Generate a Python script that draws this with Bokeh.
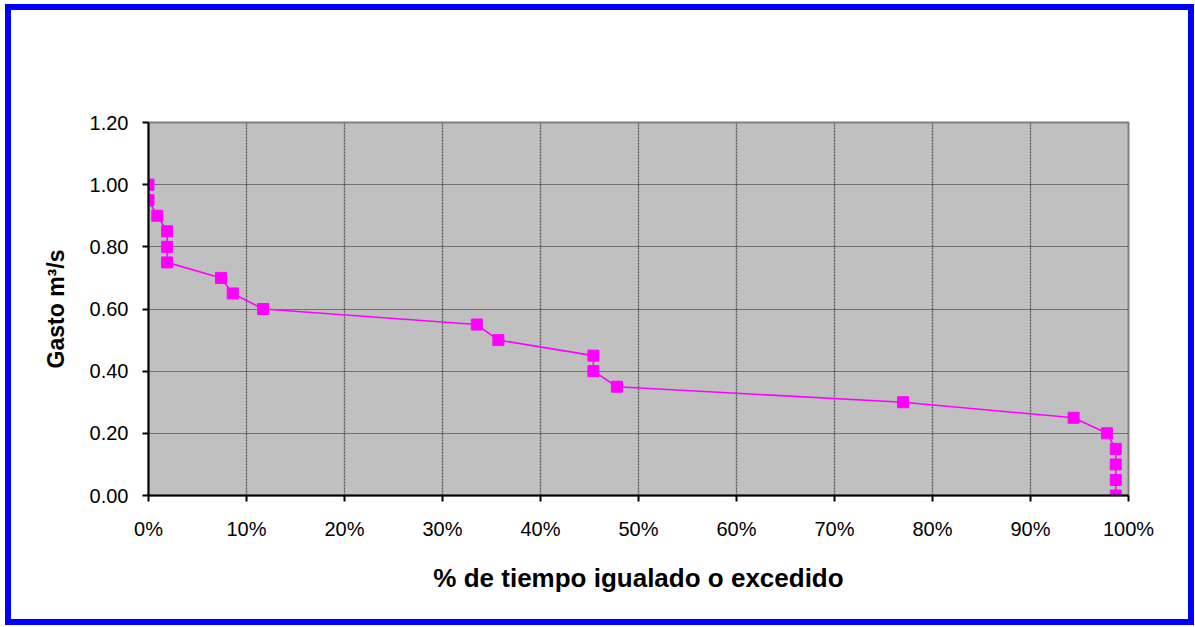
from bokeh.plotting import figure
from bokeh.models import FixedTicker, NumeralTickFormatter, Range1d
from bokeh.embed import file_html
from bokeh.resources import INLINE

# Data
tiempo_pct = [0.0, 0.0, 0.009, 0.019, 0.019, 0.019, 0.074, 0.086, 0.117, 0.335, 0.357,
              0.454, 0.454, 0.478, 0.770, 0.944, 0.978, 0.987, 0.987, 0.987, 0.987]
gasto = [1.00, 0.95, 0.90, 0.85, 0.80, 0.75, 0.70, 0.65, 0.60, 0.55, 0.50,
         0.45, 0.40, 0.35, 0.30, 0.25, 0.20, 0.15, 0.10, 0.05, 0.00]
x_ticks = [0.0, 0.1, 0.2, 0.3, 0.4, 0.5, 0.6, 0.7, 0.8, 0.9, 1.0]
y_ticks = [0.0, 0.2, 0.4, 0.6, 0.8, 1.0, 1.2]
x_title = "% de tiempo igualado o excedido"
y_title = "Gasto m³/s"

FONT = "Liberation Sans"

p = figure(output_backend="svg", toolbar_location=None,
           frame_width=980, frame_height=373,
           x_range=Range1d(0, 1), y_range=Range1d(0, 1.2))
p.min_border_left = 137
p.min_border_top = 112
p.min_border_bottom = 124
p.min_border_right = 60
p.styles = {"border": "6px solid #0000FF", "margin-left": "5px", "margin-top": "4px"}

p.background_fill_color = "#C0C0C0"
p.border_fill_color = "white"
p.outline_line_color = "#808080"
p.outline_line_width = 2

p.xgrid.ticker = FixedTicker(ticks=x_ticks)
p.ygrid.ticker = FixedTicker(ticks=y_ticks)
p.xgrid.grid_line_color = "#555555"
p.xgrid.grid_line_dash = "2 1"
p.xgrid.grid_line_width = 1.3
p.ygrid.grid_line_color = "#222222"
p.ygrid.grid_line_dash = "1 1"
p.ygrid.grid_line_width = 1

for ax in (p.xaxis[0], p.yaxis[0]):
    ax.axis_line_color = "black"
    ax.axis_line_width = 2
    ax.major_tick_line_color = "black"
    ax.major_tick_line_width = 2
    ax.major_tick_out = 6
    ax.major_tick_in = 0
    ax.minor_tick_line_color = None
    ax.major_label_text_font = FONT
    ax.major_label_text_font_size = "20px"
    ax.major_label_text_color = "black"
    ax.axis_label_text_font = FONT
    ax.axis_label_text_font_style = "bold"
    ax.axis_label_text_color = "black"

p.xaxis.ticker = FixedTicker(ticks=x_ticks)
p.yaxis.ticker = FixedTicker(ticks=y_ticks)
p.xaxis.formatter = NumeralTickFormatter(format="0%")
p.yaxis.formatter = NumeralTickFormatter(format="0.00")
p.xaxis.major_label_standoff = 16
p.yaxis.major_label_standoff = 14
p.xaxis.axis_label = x_title
p.yaxis.axis_label = y_title
p.xaxis.axis_label_text_font_size = "26px"
p.yaxis.axis_label_text_font_size = "23px"
p.xaxis.axis_label_standoff = 20
p.yaxis.axis_label_standoff = 18

p.line(tiempo_pct, gasto, line_color="#FF00FF", line_width=1.6)
p.scatter(tiempo_pct, gasto, marker="square", size=11,
          fill_color="#FF00FF", line_color="#FF00FF")

open("out.html", "w").write(file_html(p, INLINE))
